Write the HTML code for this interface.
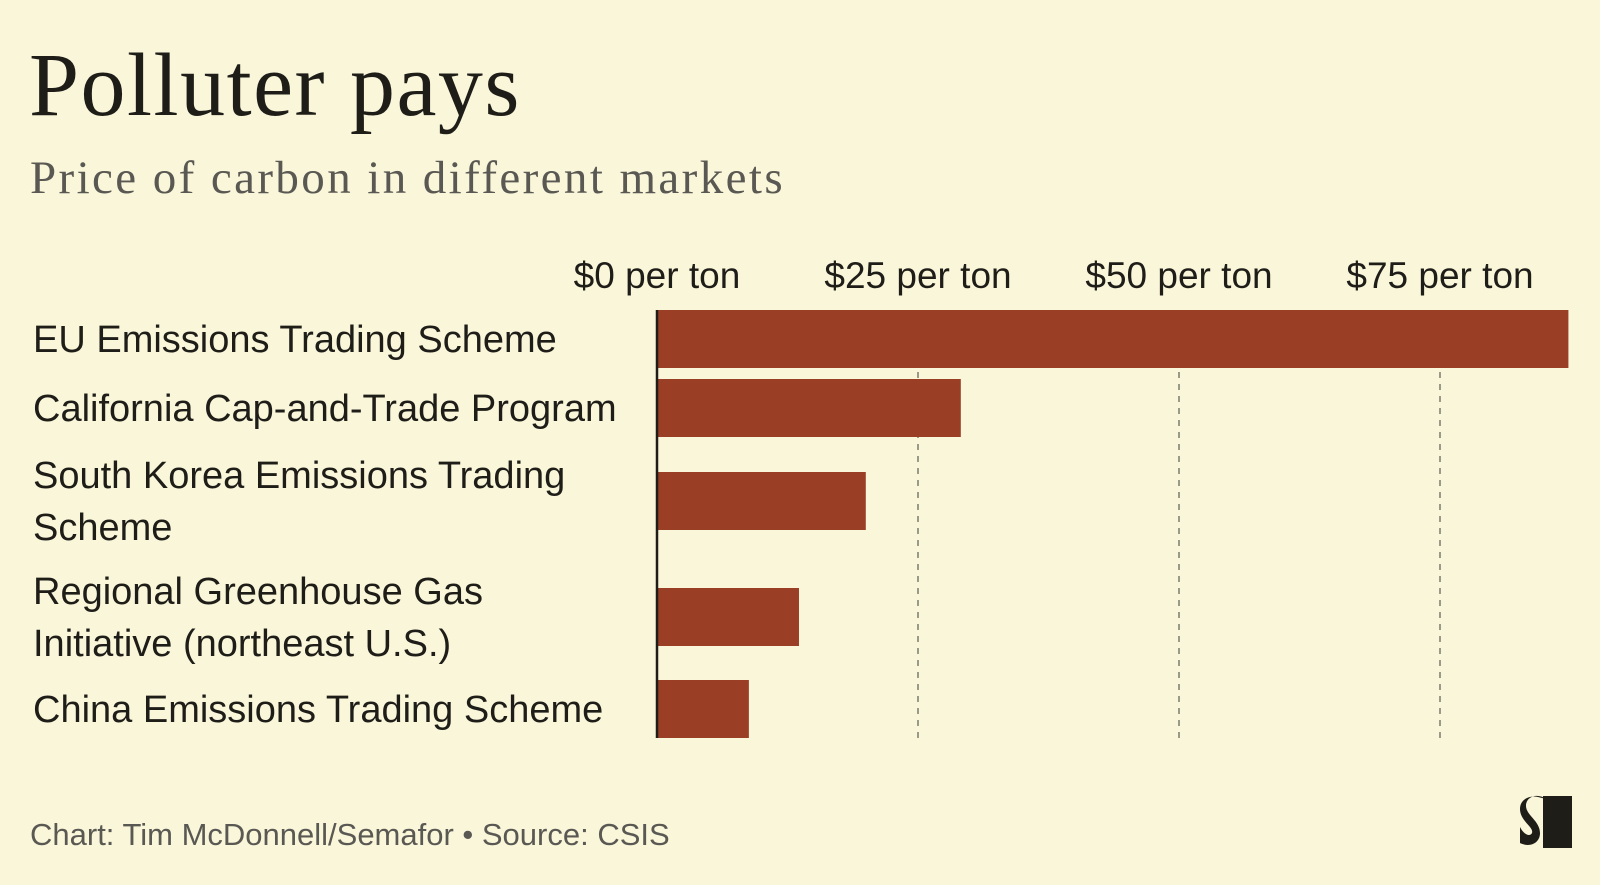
<!DOCTYPE html>
<html><head><meta charset="utf-8"><style>
body{margin:0;width:1600px;height:885px;background:#f9f6da;overflow:hidden;position:relative;font-family:"Liberation Sans",sans-serif}
.t{position:absolute;white-space:nowrap}
</style></head><body>
<div class="t" style="left:29px;top:34px;font-family:'Liberation Serif',serif;font-size:90px;color:#1f1d18;letter-spacing:1.5px">Polluter pays</div>
<div class="t" style="left:30px;top:151px;font-family:'Liberation Serif',serif;font-size:47px;color:#5a5852;letter-spacing:2.4px">Price of carbon in different markets</div>
<svg id="chart" width="1600" height="885" style="position:absolute;left:0;top:0"></svg>
<div class="t" style="left:30px;top:817px;font-size:31px;color:#5a5852">Chart: Tim McDonnell/Semafor • Source: CSIS</div>
<svg width="60" height="60" style="position:absolute;left:1516px;top:793px">
<rect x="27" y="3" width="29" height="52" fill="#1f1d18"/>
<path d="M30 6 C22 0 10 3 10 13 C10 22 24 28 24 40 C24 50 14 55 4 50 L4 34 C8 42 14 44 16 40 C18 34 4 28 4 16 C4 6 14 2 22 4 Z" fill="#1f1d18"/>
</svg>
<script>
const categories=[["EU Emissions Trading Scheme"],["California Cap-and-Trade Program"],["South Korea Emissions Trading","Scheme"],["Regional Greenhouse Gas","Initiative (northeast U.S.)"],["China Emissions Trading Scheme"]];
const values=[87.3,29.1,20.0,13.6,8.8];
const ticks=[0,25,50,75];
const tickLabels=["$0 per ton","$25 per ton","$50 per ton","$75 per ton"];
const barTops=[310,379,472,588,680];
const NS="http://www.w3.org/2000/svg";
const svg=document.getElementById('chart');
const x0=657,pxPer=261/25,barH=58;
const xs=v=>x0+v*pxPer;
function mk(t,a){const e=document.createElementNS(NS,t);for(const k in a)e.setAttribute(k,a[k]);svg.appendChild(e);return e;}
ticks.forEach((t,i)=>{
  if(t>0){const g=mk('line',{x1:xs(t),x2:xs(t),y1:372,y2:738,stroke:'#9a9a88','stroke-width':2,'stroke-dasharray':'6 6'});
  
  }
  const l=mk('text',{x:xs(t),y:288,'text-anchor':'middle','font-size':37,fill:'#1f1d18'});
  l.textContent=tickLabels[i];
  
  
});
values.forEach((v,i)=>{
  const y=barTops[i];
  const r=mk('rect',{x:x0,y:y,width:xs(v)-x0,height:barH,fill:'#9a3f26'});
  
  
  const lines=categories[i];const cy=y+barH/2;
  lines.forEach((s,j)=>{
    const ty=cy+13+(j-(lines.length-1)/2)*52;
    const tx=mk('text',{x:33,y:ty,'font-size':38,fill:'#1f1d18'});
    tx.textContent=s;
    
    
  });
});
const ax=mk('line',{x1:x0,x2:x0,y1:310,y2:738,stroke:'#1f1d18','stroke-width':2.5});


</script>
</body></html>
